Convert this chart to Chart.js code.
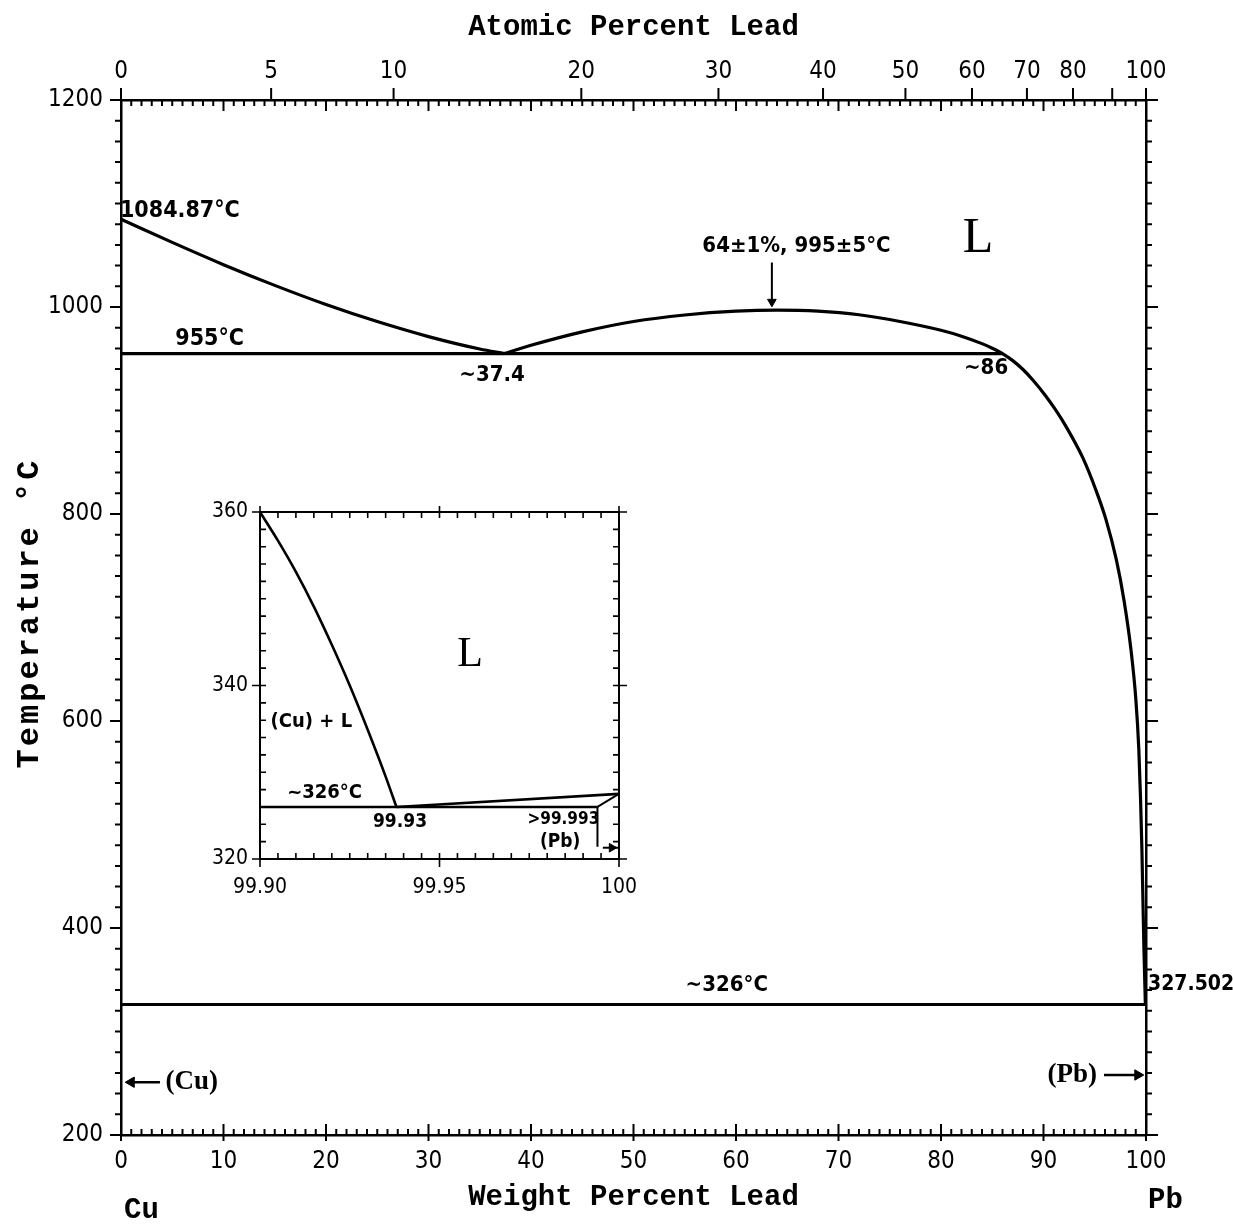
<!DOCTYPE html>
<html>
<head>
<meta charset="utf-8">
<script src="https://cdn.jsdelivr.net/npm/chart.js@4.4.1/dist/chart.umd.min.js"></script>
<style>
  body { margin: 0; background: #fff; }
  #wrap { position: relative; width: 1233px; height: 1227px; }
  #main { position: absolute; left: 0; top: 0; }
  #inset { position: absolute; left: 200px; top: 482px; }
</style>
</head>
<body>
<div id="wrap">
  <canvas id="main" width="1233" height="1227"></canvas>
  <canvas id="inset" width="460" height="428"></canvas>
</div>
<script>
// ---- data ----
var wtTicks = [0, 10, 20, 30, 40, 50, 60, 70, 80, 90, 100];
var atTicks = [0, 5, 10, 20, 30, 40, 50, 60, 70, 80, 100];
var atExtra = [90];
var tempTicks = [200, 400, 600, 800, 1000, 1200];

// Cu-rich liquidus down to the monotectic
var cuLiqWt = [0, 5, 10, 15, 20, 25, 30, 35, 37.4];
var cuLiqT  = [1084.87, 1062.4, 1040.9, 1020.9, 1002.4, 985.9, 971.4, 959.4, 955];

// miscibility gap + Pb-rich liquidus
var domeWt = [37.4, 40, 45, 50, 55, 60, 64, 68, 72, 76, 80, 82, 84, 85, 86, 87, 88, 89, 90.2, 91.2, 92.22, 93.83, 95.09, 96.09, 97.1, 97.84, 98.53, 99.01, 99.3, 99.47, 99.6, 99.7, 99.8, 99.94];
var domeT  = [955, 963, 976, 986, 992.3, 996, 997, 996, 992.5, 986, 977.5, 971.8, 964.6, 960.2, 955, 948.2, 939.6, 929, 914.3, 900.3, 884.2, 854.4, 823.7, 794.8, 756.1, 717.5, 669.2, 620.9, 572.5, 524.2, 475.9, 427.6, 379.3, 326];

var monoWt = [0, 86];
var monoT  = [955, 955];
var eutWt  = [0, 100];
var eutT   = [326, 326];

// inset (99.90 - 100 wt% Pb)
var insetXTicks = [99.90, 99.95, 100];
var insetYTicks = [320, 340, 360];
var inLiqWt = [99.900, 99.905, 99.910, 99.915, 99.920, 99.925, 99.930, 99.935, 99.938];
var inLiqT  = [360, 356.7, 353.1, 349.1, 344.7, 340.0, 334.9, 329.5, 326];
var inLiq2Wt = [99.938, 100];
var inLiq2T  = [326, 327.502];
var inEutWt = [99.90, 99.994];
var inEutT  = [326, 326];
var inSolWt = [99.994, 100];
var inSolT  = [326, 327.502];
var inSolvWt = [99.994, 99.994];
var inSolvT  = [326, 321.4];

var NARROW = '"Liberation Sans Narrow", "DejaVu Sans Condensed", "Roboto Condensed", "Liberation Sans", sans-serif';
var MONO = '"Liberation Mono", "DejaVu Sans Mono", monospace';
var SERIF = '"Liberation Serif", "DejaVu Serif", serif';

function atToWt(a) {
  return 100 * a * 207.2 / (a * 207.2 + (100 - a) * 63.546);
}

function pts(xs, ys) {
  return xs.map(function (v, i) { return { x: v, y: ys[i] }; });
}

function line(xs, ys, w, smooth) {
  return {
    data: pts(xs, ys), showLine: true, borderColor: '#000', borderWidth: w || 3,
    pointRadius: 0, fill: false, cubicInterpolationMode: smooth ? 'monotone' : 'default',
    xAxisID: 'x', yAxisID: 'y'
  };
}

function head(x, y, rot, r) {
  return {
    data: [{ x: x, y: y }], showLine: false, pointStyle: 'triangle', rotation: rot,
    pointRadius: r, backgroundColor: '#000', borderColor: '#000', borderWidth: 1,
    clip: false, xAxisID: 'x', yAxisID: 'y'
  };
}

// text labels (data coordinates)
var mainLabels = [
  { x: -0.1, y: 1093, t: '1084.87°C', f: 'bold 23px ' + NARROW, a: 'left' },
  { x: 5.3, y: 969, t: '955°C', f: 'bold 23px ' + NARROW, a: 'left' },
  { x: 36.2, y: 934, t: '~37.4', f: 'bold 22px ' + NARROW, a: 'center' },
  { x: 65.9, y: 1059, t: '64±1%, 995±5°C', f: 'bold 22px ' + NARROW, a: 'center' },
  { x: 84.4, y: 941, t: '~86', f: 'bold 22px ' + NARROW, a: 'center' },
  { x: 83.6, y: 1066, t: 'L', f: '50px ' + SERIF, a: 'center' },
  { x: 59.1, y: 345, t: '~326°C', f: 'bold 22px ' + NARROW, a: 'center' },
  { x: 100.2, y: 345, t: '327.502', f: 'bold 21px ' + NARROW, a: 'left' },
  { x: 6.9, y: 251, t: '(Cu)', f: 'bold 27px ' + SERIF, a: 'center' },
  { x: 92.8, y: 258, t: '(Pb)', f: 'bold 27px ' + SERIF, a: 'center' },
  { x: 2.0, y: 127, t: 'Cu', f: 'bold 29px ' + MONO, a: 'center' },
  { x: 101.9, y: 137, t: 'Pb', f: 'bold 29px ' + MONO, a: 'center' }
];
var insetLabels = [
  { x: 99.9585, y: 343.5, t: 'L', f: '42px ' + SERIF, a: 'center' },
  { x: 99.9143, y: 335.8, t: '(Cu) + L', f: 'bold 20px ' + NARROW, a: 'center' },
  { x: 99.918, y: 327.6, t: '~326°C', f: 'bold 20px ' + NARROW, a: 'center' },
  { x: 99.939, y: 324.3, t: '99.93', f: 'bold 19px ' + NARROW, a: 'center' },
  { x: 99.9845, y: 324.5, t: '>99.993', f: 'bold 17px ' + NARROW, a: 'center' },
  { x: 99.9836, y: 322.0, t: '(Pb)', f: 'bold 19px ' + NARROW, a: 'center' }
];

var labelPlugin = {
  id: 'labels',
  afterDatasetsDraw: function (chart) {
    var list = chart.canvas.id === 'main' ? mainLabels : insetLabels;
    var ctx = chart.ctx, xs = chart.scales.x, ys = chart.scales.y;
    ctx.save();
    ctx.fillStyle = '#000';
    ctx.textBaseline = 'middle';
    list.forEach(function (l) {
      ctx.font = l.f;
      ctx.textAlign = l.a;
      ctx.fillText(l.t, xs.getPixelForValue(l.x), ys.getPixelForValue(l.y));
    });
    if (chart.canvas.id === 'main') {
      ctx.translate(30, 613);
      ctx.rotate(-Math.PI / 2);
      ctx.font = 'bold 32px ' + MONO;
      ctx.letterSpacing = '3px';
      ctx.textAlign = 'center';
      ctx.fillText('Temperature °C', 0, 0);
    }
    ctx.restore();
  }
};

var tickPlugin = {
  id: 'tickMarks',
  afterDraw: function (chart) {
    var ctx = chart.ctx, xs = chart.scales.x, ys = chart.scales.y, a = chart.chartArea;
    var i, px, py, major;
    ctx.save();
    ctx.strokeStyle = '#000';
    ctx.beginPath();
    if (chart.canvas.id === 'main') {
      ctx.lineWidth = 2;
      for (i = 0; i <= 100; i++) {
        px = xs.getPixelForValue(i);
        major = i % 10 === 0;
        ctx.moveTo(px, a.bottom + (major ? 6 : 0));
        ctx.lineTo(px, a.bottom - (major ? 11 : 6));
        ctx.moveTo(px, a.top);
        ctx.lineTo(px, a.top + (major ? 11 : 6));
      }
      atTicks.concat(atExtra).forEach(function (at) {
        var p = xs.getPixelForValue(atToWt(at));
        ctx.moveTo(p, a.top);
        ctx.lineTo(p, a.top - 12);
      });
      for (i = 200; i <= 1200; i += 20) {
        py = ys.getPixelForValue(i);
        major = i % 200 === 0;
        ctx.moveTo(a.left, py);
        ctx.lineTo(a.left - (major ? 11 : 6), py);
        ctx.moveTo(a.right, py);
        ctx.lineTo(a.right + (major ? 12 : 6), py);
      }
    } else {
      ctx.lineWidth = 1.6;
      for (i = 0; i <= 20; i++) {
        px = xs.getPixelForValue(99.9 + i * 0.005);
        major = i % 10 === 0;
        ctx.moveTo(px, a.bottom + (major ? 8 : 0));
        ctx.lineTo(px, a.bottom - 6);
        ctx.moveTo(px, a.top - (major ? 6 : 0));
        ctx.lineTo(px, a.top + 6);
      }
      for (i = 320; i <= 360; i += 2) {
        py = ys.getPixelForValue(i);
        major = i % 20 === 0;
        ctx.moveTo(a.left - (major ? 8 : 0), py);
        ctx.lineTo(a.left + 6, py);
        ctx.moveTo(a.right + (major ? 8 : 0), py);
        ctx.lineTo(a.right - 6, py);
      }
    }
    ctx.stroke();
    ctx.restore();
  }
};

var border = { display: true, color: '#000', width: 2.5 };
var tickFont = { family: NARROW, size: 24 };

new Chart(document.getElementById('main'), {
  type: 'scatter',
  data: {
    datasets: [
      line(cuLiqWt, cuLiqT, 3.2, true),
      line(domeWt, domeT, 3.2, true),
      line(monoWt, monoT, 3.2),
      line(eutWt, eutT, 3),
      line([63.5, 63.5], [1043, 1004], 2),
      head(63.5, 1005, 180, 5),
      line([3.8, 0.6], [251, 251], 2.5),
      head(1.0, 251, 270, 6),
      line([95.9, 99.6], [258, 258], 2.5),
      head(99.2, 258, 90, 6)
    ]
  },
  options: {
    responsive: false,
    animation: false,
    layout: { padding: 0 },
    plugins: { legend: { display: false }, tooltip: { enabled: false } },
    scales: {
      x: {
        type: 'linear', position: 'bottom', min: 0, max: 100,
        afterFit: function (s) { s.height = 92; },
        afterBuildTicks: function (s) { s.ticks = wtTicks.map(function (v) { return { value: v }; }); },
        ticks: { autoSkip: false, maxRotation: 0, color: '#000', font: tickFont, padding: 12,
                 callback: function (v) { return String(v); } },
        grid: { display: false, drawTicks: false },
        border: border,
        title: { display: true, text: 'Weight Percent Lead', color: '#000',
                 font: { family: MONO, size: 29, weight: 'bold' }, padding: { top: 0, bottom: 12 } }
      },
      x2: {
        type: 'linear', axis: 'x', position: 'top', min: 0, max: 100,
        afterFit: function (s) { s.height = 100; },
        afterBuildTicks: function (s) { s.ticks = atTicks.map(function (v) { return { value: atToWt(v) }; }); },
        ticks: { autoSkip: false, maxRotation: 0, color: '#000', font: tickFont, padding: 14,
                 callback: function (v, i) { return String(atTicks[i]); } },
        grid: { display: false, drawTicks: false },
        border: border,
        title: { display: true, text: 'Atomic Percent Lead', color: '#000',
                 font: { family: MONO, size: 29, weight: 'bold' }, padding: { top: 10, bottom: 0 } }
      },
      y: {
        type: 'linear', position: 'left', min: 200, max: 1200,
        afterFit: function (s) { s.width = 121; },
        afterBuildTicks: function (s) { s.ticks = tempTicks.map(function (v) { return { value: v }; }); },
        ticks: { color: '#000', font: tickFont, padding: 18, callback: function (v) { return String(v); } },
        grid: { display: false, drawTicks: false },
        border: border
      },
      y2: {
        type: 'linear', axis: 'y', position: 'right', min: 200, max: 1200,
        afterFit: function (s) { s.width = 87; },
        ticks: { display: false },
        grid: { display: false, drawTicks: false },
        border: border
      }
    }
  },
  plugins: [tickPlugin, labelPlugin]
});

new Chart(document.getElementById('inset'), {
  type: 'scatter',
  data: {
    datasets: [
      line(inLiqWt, inLiqT, 2.6, true),
      line(inLiq2Wt, inLiq2T, 2.6),
      line(inEutWt, inEutT, 2.6),
      line(inSolWt, inSolT, 2),
      line(inSolvWt, inSolvT, 2),
      line([99.9955, 100], [321.3, 321.3], 2),
      head(99.998, 321.3, 90, 5)
    ]
  },
  options: {
    responsive: false,
    animation: false,
    layout: { padding: 0 },
    plugins: { legend: { display: false }, tooltip: { enabled: false } },
    scales: {
      x: {
        type: 'linear', position: 'bottom', min: 99.9, max: 100,
        afterFit: function (s) { s.height = 51; },
        afterBuildTicks: function (s) { s.ticks = insetXTicks.map(function (v) { return { value: v }; }); },
        ticks: { autoSkip: false, maxRotation: 0, color: '#000', font: { family: NARROW, size: 21 }, padding: 16,
                 callback: function (v, i) { return i === 2 ? '100' : insetXTicks[i].toFixed(2); } },
        grid: { display: false, drawTicks: false },
        border: { display: true, color: '#000', width: 2 }
      },
      x2: {
        type: 'linear', axis: 'x', position: 'top', min: 99.9, max: 100,
        afterFit: function (s) { s.height = 30; },
        ticks: { display: false },
        grid: { display: false, drawTicks: false },
        border: { display: true, color: '#000', width: 2 }
      },
      y: {
        type: 'linear', position: 'left', min: 320, max: 360,
        afterFit: function (s) { s.width = 60; },
        afterBuildTicks: function (s) { s.ticks = insetYTicks.map(function (v) { return { value: v }; }); },
        ticks: { color: '#000', font: { family: NARROW, size: 21 }, padding: 12 },
        grid: { display: false, drawTicks: false },
        border: { display: true, color: '#000', width: 2 }
      },
      y2: {
        type: 'linear', axis: 'y', position: 'right', min: 320, max: 360,
        afterFit: function (s) { s.width = 41; },
        ticks: { display: false },
        grid: { display: false, drawTicks: false },
        border: { display: true, color: '#000', width: 2 }
      }
    }
  },
  plugins: [tickPlugin, labelPlugin]
});
</script>
</body>
</html>
